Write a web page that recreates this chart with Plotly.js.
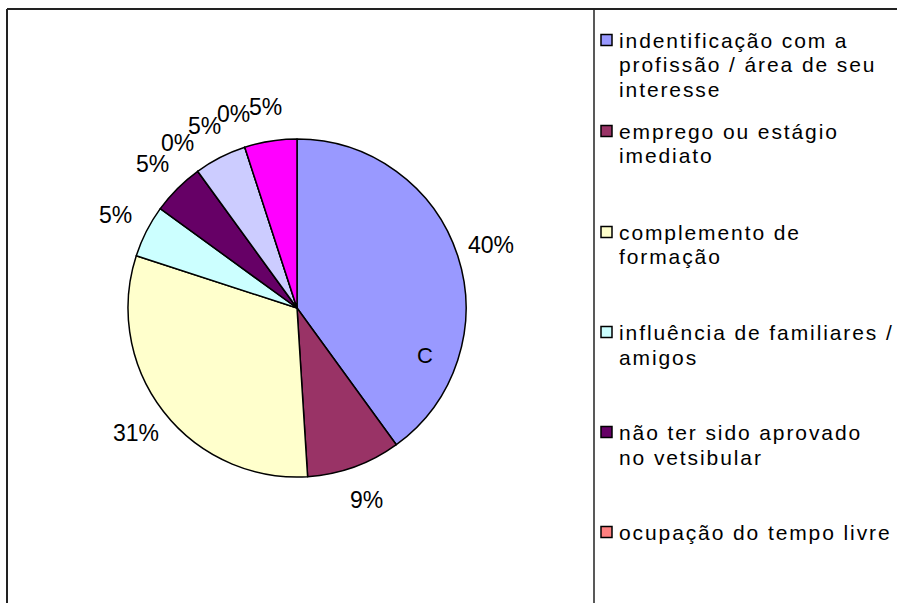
<!DOCTYPE html>
<html><head><meta charset="utf-8">
<script src="https://cdn.plot.ly/plotly-3.0.1.min.js"></script>
<style>
html,body{margin:0;padding:0;background:#fff;}
#chart{width:897px;height:603px;}
.annotation-text{letter-spacing:1.9px}
.annotation-text[data-unformatted$="%"], .annotation-text[data-unformatted="C"]{letter-spacing:0}
</style></head><body><div id="chart"></div>
<script>
// ---- data ----
const categories = [
  "indentificação com a<br>profissão / área de seu<br>interesse",
  "emprego ou estágio<br>imediato",
  "complemento de<br>formação",
  "influência de familiares /<br>amigos",
  "não ter sido aprovado<br>no vetsibular",
  "ocupação do tempo livre",
  "item 7",
  "item 8",
  "item 9"
];
const values = [40, 9, 31, 5, 5, 0, 5, 0, 5];
const colors = ["#9999FF","#993366","#FFFFCC","#CCFFFF","#660066","#FF8080","#CCCCFF","#000080","#FF00FF"];
const sliceNote = "C";

// ---- layout helpers (pixels -> paper) ----
const W = 897, H = 603;
const px = x => x / W;
const py = y => 1 - y / H;
const cx = 297, cy = 308, r = 169, rLab = 204;
const legendRow = [40, 131, 232, 332, 432, 532, 632, 732, 832];
const LINE = 25;
const FONT = '"Liberation Sans", Arial, sans-serif';

const shapes = [
  {type:'line', xref:'paper', yref:'paper', x0:px(7), x1:px(900), y0:py(9), y1:py(9), line:{color:'#222', width:2}},
  {type:'line', xref:'paper', yref:'paper', x0:px(7), x1:px(7), y0:py(9), y1:py(610), line:{color:'#222', width:2}},
  {type:'line', xref:'paper', yref:'paper', x0:px(594), x1:px(594), y0:py(9), y1:py(610), line:{color:'#222', width:1.5}}
];
const annotations = [
  {xref:'paper', yref:'paper', x:px(425), y:py(355), text:sliceNote, showarrow:false,
   font:{family:FONT, size:22, color:'#000'}}
];

// percent labels placed along each slice's mid-angle (Excel style, no collision shifting)
const total = values.reduce((a, b) => a + b, 0);
let cum = 0;
values.forEach(v => {
  const theta = (cum + v / 2) / total * 2 * Math.PI;
  cum += v;
  annotations.push({xref:'paper', yref:'paper',
    x:px(cx + rLab * Math.sin(theta)), y:py(cy - rLab * Math.cos(theta)),
    xanchor:'center', yanchor:'middle', showarrow:false,
    text:Math.round(v / total * 100) + '%', font:{family:FONT, size:23, color:'#000'}});
});

// legend (box is cut off at the right / bottom edge, like the reference)
categories.forEach((c, i) => {
  const mid = legendRow[i];
  if (mid > H) return;
  shapes.push({type:'rect', xref:'paper', yref:'paper', x0:px(601), x1:px(612), y0:py(mid-5.5), y1:py(mid+5.5),
    fillcolor:colors[i], line:{color:'#000', width:1.5}});
  c.split('<br>').forEach((line, k) => {
    annotations.push({xref:'paper', yref:'paper', x:px(617), y:py(mid + k*LINE), xanchor:'left', yanchor:'middle',
      align:'left', showarrow:false, text:line, font:{family:FONT, size:21, color:'#000'}});
  });
});

const pieTrace = {
  type:'pie',
  labels:categories,
  values:values,
  sort:false,
  direction:'clockwise',
  rotation:0,
  marker:{colors:colors, line:{color:'#000', width:1.5}},
  textinfo:'none',
  hoverinfo:'none',
  showlegend:false,
  domain:{x:[px(cx-r), px(cx+r)], y:[py(cy+r), py(cy-r)]}
};

const layout = {
  width:W, height:H,
  margin:{l:0, r:0, t:0, b:0},
  paper_bgcolor:'#fff',
  showlegend:false,
  font:{family:FONT},
  shapes:shapes,
  annotations:annotations
};
Plotly.newPlot('chart', [pieTrace], layout, {displayModeBar:false, staticPlot:true});
</script></body></html>
